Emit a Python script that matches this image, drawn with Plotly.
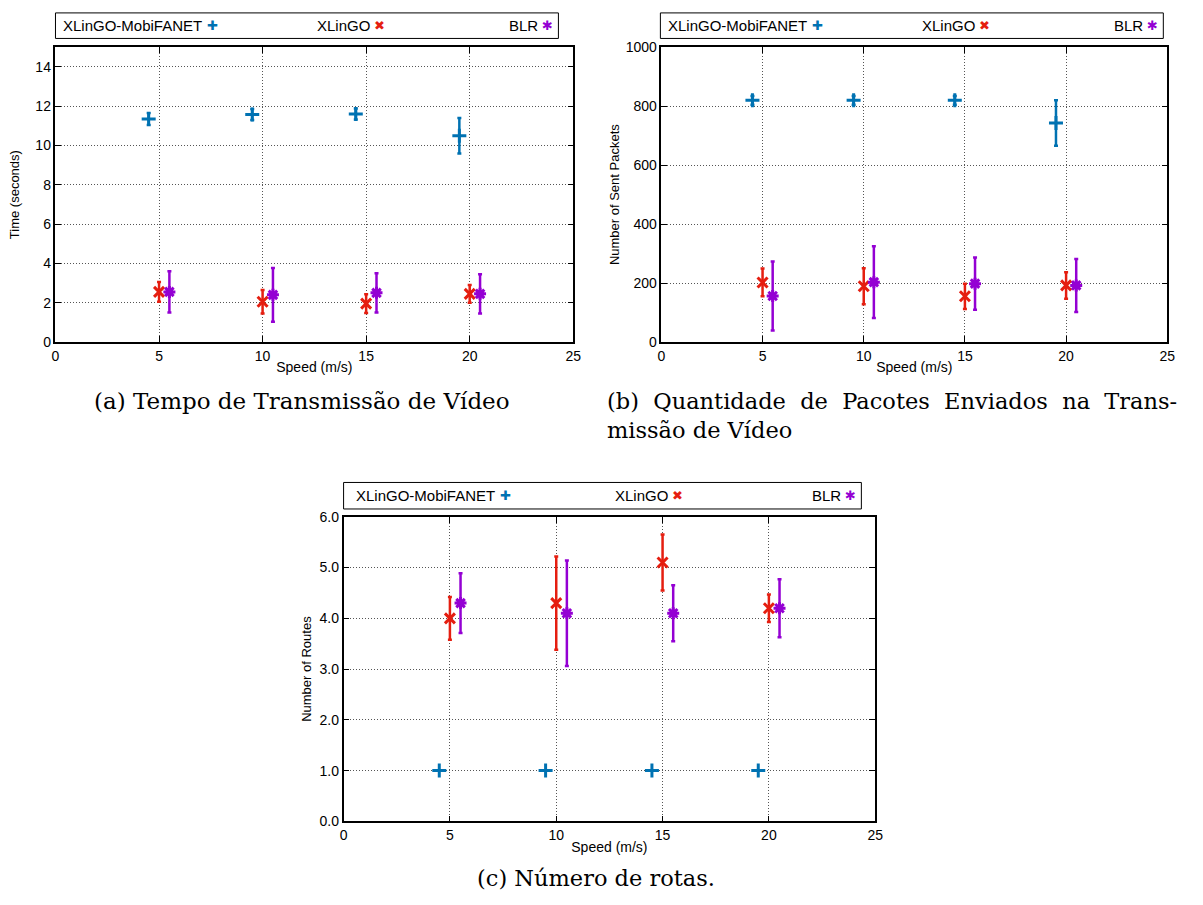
import plotly.graph_objects as go

W, H = 1203, 905

# ---------------- data ----------------
speed_ticks = [0, 5, 10, 15, 20, 25]
x_mobi = [4.5, 9.5, 14.5, 19.5]
x_xlingo = [5, 10, 15, 20]
x_blr = [5.5, 10.5, 15.5, 20.5]

series_names = ["XLinGO-MobiFANET", "XLinGO", "BLR"]

time_mobi = [11.35, 11.58, 11.6, 10.5]
time_mobi_err = [0.3, 0.28, 0.28, 0.9]
time_xlingo = [2.55, 2.05, 1.95, 2.45]
time_xlingo_err = [0.5, 0.6, 0.48, 0.45]
time_blr = [2.55, 2.4, 2.5, 2.45]
time_blr_err = [1.05, 1.37, 1.0, 1.0]

pkts_mobi = [820, 820, 820, 743]
pkts_mobi_err = [15, 15, 15, 77]
pkts_xlingo = [202, 189, 155, 192]
pkts_xlingo_err = [47, 61, 43, 45]
pkts_blr = [156, 203, 198, 192]
pkts_blr_err = [117, 122, 89, 90]

routes_mobi = [1.0, 1.0, 1.0, 1.0]
routes_mobi_err = [0, 0, 0, 0]
routes_xlingo = [4.0, 4.3, 5.1, 4.2]
routes_xlingo_err = [0.42, 0.92, 0.55, 0.27]
routes_blr = [4.3, 4.1, 4.1, 4.2]
routes_blr_err = [0.59, 1.04, 0.55, 0.57]

caption_a = "(a) Tempo de Transmissão de Vídeo"
caption_b_lines = ["(b) Quantidade de Pacotes Enviados na Trans-", "missão de Vídeo"]
caption_c = "(c) Número de rotas."
ytitles = ["Time (seconds)", "Number of Sent Packets", "Number of Routes"]
xtitle = "Speed (m/s)"

# ---------------- style ----------------
BLUE, RED, PURPLE = "#0072b2", "#e51e10", "#9400d3"
colors = [BLUE, RED, PURPLE]
symbols = ["cross-thin-open", "x-thin-open", "asterisk-open"]
marker_sizes = [10, 10, 10]
legend_glyphs = ["✚", "✖", "✱"]
SANS = "Liberation Sans"
SERIF = "DejaVu Serif"

def px(x):
    return x / W

def py(y):
    return 1 - y / H

fig = go.Figure()

panels = [
    dict(ax="", data=[(x_mobi, time_mobi, time_mobi_err), (x_xlingo, time_xlingo, time_xlingo_err), (x_blr, time_blr, time_blr_err)],
         xdom=(52, 575), ydom=(40, 340), yrange=[0, 15], ydtick=2, yfmt="d", ystand=13,
         box=(52, 560, 5, 31)),
    dict(ax="2", data=[(x_mobi, pkts_mobi, pkts_mobi_err), (x_xlingo, pkts_xlingo, pkts_xlingo_err), (x_blr, pkts_blr, pkts_blr_err)],
         xdom=(664, 1175), ydom=(40, 340), yrange=[0, 1000], ydtick=200, yfmt="d", ystand=3,
         box=(663, 1171, 5, 31)),
    dict(ax="3", data=[(x_mobi, routes_mobi, routes_mobi_err), (x_xlingo, routes_xlingo, routes_xlingo_err), (x_blr, routes_blr, routes_blr_err)],
         xdom=(343, 880), ydom=(518, 828), yrange=[0, 6], ydtick=1, yfmt=".1f", ystand=5,
         box=(343, 866, 483, 510)),
]

annotations = []
shapes = []
layout_axes = {}

for i, p in enumerate(panels):
    ax = p["ax"]
    for k, (xs, ys, es) in enumerate(p["data"]):
        fig.add_trace(go.Scatter(
            x=xs, y=ys, mode="markers", name=series_names[k], showlegend=False,
            xaxis="x" + ax, yaxis="y" + ax,
            marker=dict(symbol=symbols[k], size=marker_sizes[k], color=colors[k],
                        line=dict(color=colors[k], width=3)),
            error_y=dict(type="data", array=es, visible=True, color=colors[k],
                         thickness=2.5, width=2),
            cliponaxis=False,
        ))
    common = dict(showline=True, linecolor="black", linewidth=1.5, mirror="ticks",
                  ticks="inside", ticklen=6, tickcolor="black", tickwidth=1,
                  showgrid=True, gridcolor="#555", griddash="1px,2px", gridwidth=1,
                  zeroline=False, tickfont=dict(family=SANS, size=14, color="black"))
    layout_axes["xaxis" + ax] = dict(common, domain=[px(p["xdom"][0]), px(p["xdom"][1])],
                                     range=[0, 25], tickvals=speed_ticks,
                                     anchor="y" + ax,
                                     title=dict(text=xtitle, font=dict(family=SANS, size=14, color="black"), standoff=0))
    layout_axes["yaxis" + ax] = dict(common, domain=[py(p["ydom"][1]), py(p["ydom"][0])],
                                     range=p["yrange"], dtick=p["ydtick"], tickformat=p["yfmt"],
                                     anchor="x" + ax,
                                     title=dict(text=ytitles[i], font=dict(family=SANS, size=13, color="black"), standoff=p["ystand"]))
    # legend box
    bx0, bx1, by0, by1 = p["box"]
    shapes.append(dict(type="rect", xref="paper", yref="paper", x0=px(bx0), x1=px(bx1),
                       y0=py(by1), y1=py(by0), line=dict(color="black", width=1)))
    colw = (bx1 - bx0) / 3
    ymid = py((by0 + by1) / 2)
    for k in range(3):
        sym_x = bx0 + colw * (k + 1) - 11
        annotations.append(dict(xref="paper", yref="paper", x=px(sym_x - 8), y=ymid,
                                xanchor="right", yanchor="middle", showarrow=False,
                                text=series_names[k], font=dict(family=SANS, size=15, color="black")))
        annotations.append(dict(xref="paper", yref="paper", x=px(sym_x), y=ymid,
                                xanchor="center", yanchor="middle", showarrow=False,
                                text=legend_glyphs[k], font=dict(family="DejaVu Sans", size=13, color=colors[k])))

# captions (first line of (b) is justified in the original: widen its word gaps)
caption_b = caption_b_lines[0].replace(" ", "\u00a0 ") + "<br>" + caption_b_lines[1]
annotations.append(dict(xref="paper", yref="paper", x=px(301), y=py(400), xanchor="center", yanchor="middle",
                        showarrow=False, text=caption_a, font=dict(family=SERIF, size=23, color="black")))
annotations.append(dict(xref="paper", yref="paper", x=px(607), y=py(415), xanchor="left", yanchor="middle",
                        showarrow=False, align="left", text=caption_b,
                        font=dict(family=SERIF, size=22.5, color="black")))
annotations.append(dict(xref="paper", yref="paper", x=px(598), y=py(886), xanchor="center", yanchor="middle",
                        showarrow=False, text=caption_c, font=dict(family=SERIF, size=22.5, color="black")))

fig.update_layout(width=W, height=H, margin=dict(l=0, r=0, t=0, b=0),
                  paper_bgcolor="white", plot_bgcolor="white", showlegend=False,
                  annotations=annotations, shapes=shapes, **layout_axes)

fig.write_html("out.html")
